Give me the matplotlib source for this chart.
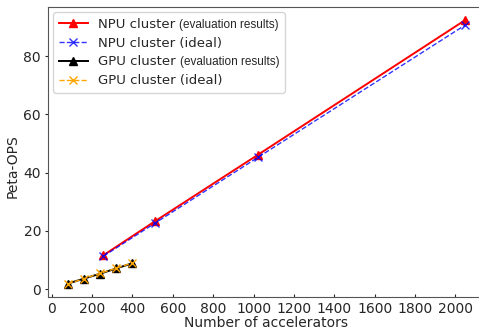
import matplotlib
matplotlib.use('Agg')
import matplotlib.pyplot as plt
from matplotlib.offsetbox import TextArea, HPacker

# accelerators
npu_x = [256, 512, 1024, 2048]
gpu_x = [80, 160, 240, 320, 400]

# Peta-OPS
npu_eval = [11.6, 23.3, 46.2, 92.3]
npu_ideal = [11.3, 22.65, 45.3, 90.6]
gpu_eval = [1.9, 3.6, 5.3, 7.1, 8.9]
gpu_ideal = [1.8, 3.6, 5.4, 7.2, 9.0]

labels = ['NPU cluster (evaluation results)', 'NPU cluster (ideal)',
          'GPU cluster (evaluation results)', 'GPU cluster (ideal)']

txt_col = '#262626'
plt.rcParams['font.family'] = 'DejaVu Sans'

fig = plt.figure(figsize=(4.79, 3.31), dpi=100)
ax = fig.add_axes([0.1002, 0.1027, 0.912, 0.876])

ax.plot(npu_x, npu_eval, color='red', lw=1.4, marker='^', ms=6, label=labels[0])
ax.plot(npu_x, npu_ideal, color='blue', lw=1.0, ls='--', marker='x', ms=6,
        alpha=0.8, label=labels[1])
ax.plot(gpu_x, gpu_eval, color='black', lw=1.4, marker='^', ms=6, label=labels[2])
ax.plot(gpu_x, gpu_ideal, color='orange', lw=1.0, ls='--', marker='x', ms=6,
        label=labels[3])

ax.set_xlim(-18, 2146)
ax.set_ylim(-2.7, 96.8)
ax.set_xticks(range(0, 2001, 200))
ax.set_yticks(range(0, 81, 20))
ax.tick_params(axis='x', direction='in', length=2.5, labelsize=10, colors=txt_col)
ax.tick_params(axis='y', direction='out', length=2.5, pad=2.5, labelsize=10,
               colors=txt_col)
for s in ax.spines.values():
    s.set_color('#555555')
ax.spines['right'].set_visible(False)
ax.set_xlabel('Number of accelerators', fontsize=10, color=txt_col, labelpad=0)
ax.set_ylabel('Peta-OPS', fontsize=10, color=txt_col)
ax.yaxis.set_label_coords(-0.066, 0.45)

leg = ax.legend(loc='upper left', fontsize=9.5, handlelength=2.2,
                borderaxespad=0.4, labelspacing=0.45, framealpha=0.8)

# smaller "(evaluation results)" part of the legend labels
for column in leg._legend_handle_box.get_children():
    for item in column.get_children():
        handle, tbox = item.get_children()
        text = tbox._text.get_text()
        if '(evaluation results)' in text:
            tbox._text.set_text(text.replace(' (evaluation results)', ''))
            small = TextArea('(evaluation results)',
                             textprops=dict(fontsize=8.5, color=txt_col,
                                            family='Liberation Sans'))
            small.set_figure(fig)
            pack = HPacker(children=[tbox, small], align='baseline', pad=0, sep=3)
            pack.set_figure(fig)
            item._children = [handle, pack]
for t in leg.get_texts():
    t.set_color(txt_col)

fig.savefig('out.png', dpi=100)
